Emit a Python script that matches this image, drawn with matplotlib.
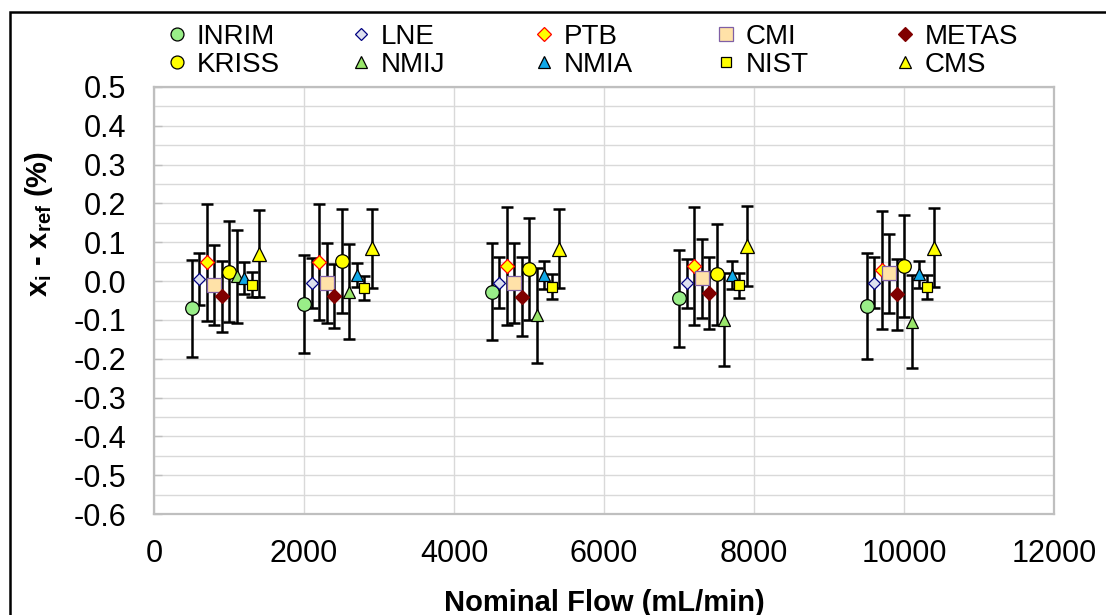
import numpy as np
import matplotlib
matplotlib.use("Agg")
import matplotlib.pyplot as plt
from matplotlib.patches import Rectangle
from matplotlib.ticker import MultipleLocator, FormatStrFormatter

plt.rcParams['font.family'] = ['Liberation Sans', 'DejaVu Sans']
plt.rcParams['axes.unicode_minus'] = False
plt.rcParams['mathtext.fontset'] = 'custom'
plt.rcParams['mathtext.rm'] = 'Liberation Sans'
plt.rcParams['mathtext.bf'] = 'Liberation Sans:bold'
plt.rcParams['mathtext.it'] = 'Liberation Sans:italic'

# nominal flow (mL/min) each lab is plotted at, deviation (%) and expanded uncertainty (%)
labs = ["INRIM", "LNE", "PTB", "CMI", "METAS", "KRISS", "NMIJ", "NMIA", "NIST", "CMS"]

flow = {
    "INRIM": [500, 2000, 4500, 7000, 9500],
    "LNE":   [600, 2100, 4600, 7100, 9600],
    "PTB":   [700, 2200, 4700, 7200, 9700],
    "CMI":   [800, 2300, 4800, 7300, 9800],
    "METAS": [900, 2400, 4900, 7400, 9900],
    "KRISS": [1000, 2500, 5000, 7500, 10000],
    "NMIJ":  [1100, 2600, 5100, 7600, 10100],
    "NMIA":  [1200, 2700, 5200, 7700, 10200],
    "NIST":  [1300, 2800, 5300, 7800, 10300],
    "CMS":   [1400, 2900, 5400, 7900, 10400],
}

dev = {
    "INRIM": [-0.070, -0.060, -0.027, -0.044, -0.064],
    "LNE":   [0.005, -0.005, -0.004, -0.006, -0.004],
    "PTB":   [0.048, 0.049, 0.039, 0.040, 0.028],
    "CMI":   [-0.010, -0.005, -0.004, 0.007, 0.020],
    "METAS": [-0.039, -0.038, -0.040, -0.031, -0.034],
    "KRISS": [0.024, 0.052, 0.031, 0.017, 0.039],
    "NMIJ":  [0.012, -0.027, -0.088, -0.100, -0.105],
    "NMIA":  [0.008, 0.016, 0.015, 0.015, 0.017],
    "NIST":  [-0.009, -0.018, -0.014, -0.011, -0.016],
    "CMS":   [0.071, 0.085, 0.083, 0.091, 0.086],
}

unc = {
    "INRIM": [0.125, 0.126, 0.125, 0.125, 0.137],
    "LNE":   [0.067, 0.065, 0.065, 0.064, 0.066],
    "PTB":   [0.150, 0.150, 0.152, 0.152, 0.152],
    "CMI":   [0.103, 0.103, 0.103, 0.101, 0.102],
    "METAS": [0.092, 0.083, 0.101, 0.092, 0.091],
    "KRISS": [0.130, 0.133, 0.132, 0.131, 0.131],
    "NMIJ":  [0.120, 0.122, 0.122, 0.120, 0.120],
    "NMIA":  [0.040, 0.031, 0.036, 0.036, 0.036],
    "NIST":  [0.032, 0.031, 0.031, 0.032, 0.031],
    "CMS":   [0.112, 0.102, 0.102, 0.103, 0.102],
}

# marker, size, face, edge
style = {
    "INRIM": ('o', 9.8, '#99ee88', 'black'),
    "LNE":   ('D', 6.3, '#dde0ef', '#000080'),
    "PTB":   ('D', 7.0, '#ffff00', '#ff0000'),
    "CMI":   ('s', 10.5, '#ffe2a8', '#7f5fa5'),
    "METAS": ('D', 7.0, '#800000', '#800000'),
    "KRISS": ('o', 9.8, '#ffff00', 'black'),
    "NMIJ":  ('^', 9.0, '#99e66a', 'black'),
    "NMIA":  ('^', 8.4, '#10a8e8', 'black'),
    "NIST":  ('s', 7.4, '#ffff00', 'black'),
    "CMS":   ('^', 9.8, '#ffff00', 'black'),
}

W, H = 1106, 615
fig = plt.figure(figsize=(W/100, H/100), dpi=100)
ax = fig.add_axes([154/W, 101/H, 900/W, 427/H])

handles = {}
for lab in labs:
    m, ms, fc, ec = style[lab]
    ax.errorbar(flow[lab], dev[lab], yerr=unc[lab], fmt='none', ecolor='black',
                elinewidth=1.8, capsize=4.3, capthick=1.8, zorder=3)
    h, = ax.plot(flow[lab], dev[lab], ls='none', marker=m, markersize=ms,
                 markerfacecolor=fc, markeredgecolor=ec, markeredgewidth=0.9,
                 zorder=4, label=lab)
    handles[lab] = h

ax.set_xlim(0, 12000)
ax.set_ylim(-0.6, 0.5)
ax.xaxis.set_major_locator(MultipleLocator(2000))
ax.yaxis.set_major_locator(MultipleLocator(0.1))
ax.yaxis.set_minor_locator(MultipleLocator(0.05))
ax.yaxis.set_major_formatter(FormatStrFormatter('%.1f'))

ax.grid(which='both', axis='y', color='#d9d9d9', linewidth=1.0, zorder=0)
ax.grid(which='major', axis='x', color='#d9d9d9', linewidth=1.0, zorder=0)
ax.set_axisbelow(True)

for sp in ax.spines.values():
    sp.set_color('#bfbfbf')
    sp.set_linewidth(1.6)

ax.tick_params(axis='x', length=0, pad=18, labelsize=22)
ax.tick_params(axis='y', which='major', direction='in', length=6, color='#bfbfbf',
               width=1.0, pad=20, labelsize=22)
ax.tick_params(axis='y', which='minor', length=0)

ax.set_xlabel('Nominal Flow (mL/min)', fontsize=21, fontweight='bold')
ax.xaxis.set_label_coords(0.5, -0.175)
ax.set_ylabel(r'$\mathbf{x_i}$ - $\mathbf{x_{ref}}$ (%)', fontsize=21, fontweight='bold')
ax.yaxis.set_label_coords(-0.11, 0.68)

# legend: five columns of two entries
cols = [("INRIM", "KRISS"), ("LNE", "NMIJ"), ("PTB", "NMIA"), ("CMI", "NIST"), ("METAS", "CMS")]
col_x = [166, 350, 533, 715, 894]
for (a, b), cx in zip(cols, col_x):
    fig.legend([handles[a], handles[b]], [a, b], loc='upper left',
               bbox_to_anchor=(cx/W, 1 - 24/H), frameon=False, fontsize=20,
               handlelength=0.8, handletextpad=0.3, borderpad=0, borderaxespad=0,
               labelspacing=0.06, markerscale=0.95)

# outer chart border
fig.add_artist(Rectangle((10/W, -0.05), 1.2, 1 - 12/H + 0.05, transform=fig.transFigure,
                         fill=False, edgecolor='black', linewidth=1.8))

fig.savefig('out.png', dpi=100)
